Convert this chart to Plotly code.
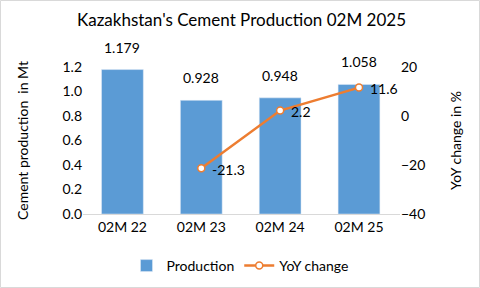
import plotly.graph_objects as go

categories = ["02M 22", "02M 23", "02M 24", "02M 25"]
production = [1.179, 0.928, 0.948, 1.058]
yoy_cats = ["02M 23", "02M 24", "02M 25"]
yoy = [-21.3, 2.2, 11.6]

FONT = "Lato, sans-serif"
W, H = 480, 288
L, R, T, B = 83, 80, 67, 74

fig = go.Figure()
fig.add_trace(go.Bar(
    x=categories, y=production, name="Production",
    marker=dict(color="#5B9BD5"),
    width=0.53,
))
fig.add_trace(go.Scatter(
    x=yoy_cats, y=yoy, name="YoY change", yaxis="y2",
    mode="lines+markers",
    line=dict(color="#ED7D31", width=2.5),
    marker=dict(size=7, color="white", line=dict(color="#ED7D31", width=1.5)),
    cliponaxis=False,
))

for c, v in zip(categories, production):
    fig.add_annotation(x=c, y=v, xref="x", yref="y", text=f"{v:.3f}",
                       showarrow=False, yanchor="bottom", yshift=12,
                       font=dict(size=14, color="#000000"))
for c, v in zip(yoy_cats, yoy):
    fig.add_annotation(x=c, y=v, xref="x", yref="y2", text=f"{v:.1f}",
                       showarrow=False, xanchor="left", yanchor="middle",
                       xshift=9, yshift=-1,
                       font=dict(size=14, color="#000000"))

fig.update_layout(
    width=W, height=H,
    margin=dict(l=L, r=R, t=T, b=B),
    paper_bgcolor="white", plot_bgcolor="white",
    font=dict(family=FONT, size=14, color="#000000"),
    title=dict(text="Kazakhstan's Cement Production 02M 2025",
               x=0.5, xref="paper", y=1 - 20 / H, yanchor="middle",
               font=dict(size=17, color="#000000")),
    xaxis=dict(showline=True, linecolor="#D9D9D9", linewidth=1,
               ticks="", tickfont=dict(size=14), showgrid=False),
    yaxis=dict(range=[0, 1.2], dtick=0.2, tickformat=".1f",
               showgrid=False, zeroline=False, showline=False,
               title=dict(text="Cement production  in Mt", font=dict(size=14), standoff=30),
               tickfont=dict(size=14)),
    yaxis2=dict(range=[-40, 20], dtick=20, overlaying="y", side="right",
                showgrid=False, zeroline=False, showline=False,
                title=dict(text="YoY change in %", font=dict(size=14), standoff=26),
                tickfont=dict(size=14)),
    legend=dict(orientation="h", x=0.5, xanchor="center", xref="container",
                y=(H - 266) / H, yref="container", yanchor="middle",
                font=dict(size=14), itemwidth=30),
    showlegend=True,
    bargap=0.47,
)

pw = W - L - R
ph = H - T - B
fig.add_shape(type="rect", xref="paper", yref="paper",
              x0=(0.5 - L) / pw, x1=(W - 0.5 - L) / pw,
              y0=(H - B - (H - 0.5)) / ph, y1=(H - B - 0.5) / ph,
              line=dict(color="#D9D9D9", width=1), fillcolor="rgba(0,0,0,0)")

fig.write_html("out.html")
